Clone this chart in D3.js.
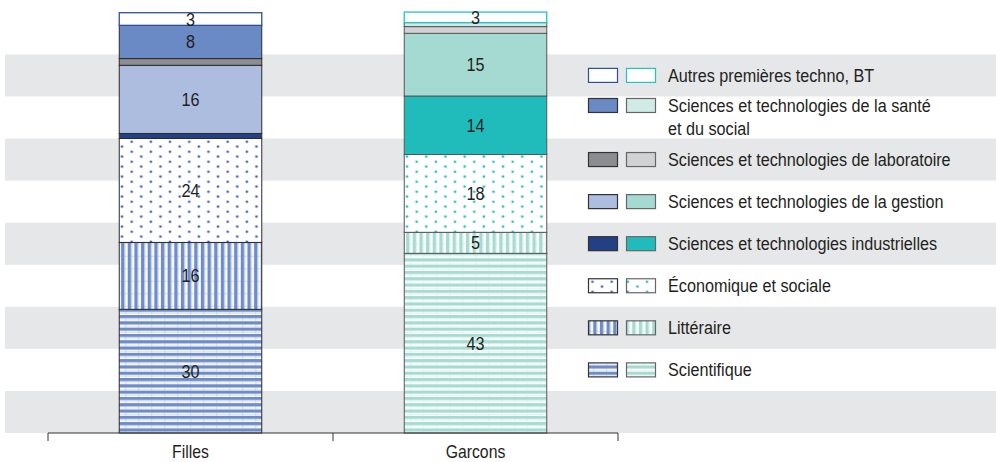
<!DOCTYPE html>
<html><head><meta charset="utf-8">
<script src="https://cdn.jsdelivr.net/npm/d3@7"></script>
<style>
html,body{margin:0;padding:0;background:#fff;}
svg text{font-family:'Liberation Sans','Arial',sans-serif;fill:#231f20;}
</style></head>
<body><svg id="c" width="996" height="462"></svg>
<script>
const categories = ["Filles", "Garcons"];
const seriesNames = ["Scientifique", "Littéraire", "Économique et sociale",
  "Sciences et technologies industrielles", "Sciences et technologies de la gestion",
  "Sciences et technologies de laboratoire", "Sciences et technologies de la santé et du social",
  "Autres premières techno, BT"];
const legendLines = [["Scientifique"], ["Littéraire"], ["Économique et sociale"],
  ["Sciences et technologies industrielles"], ["Sciences et technologies de la gestion"],
  ["Sciences et technologies de laboratoire"], ["Sciences et technologies de la santé", "et du social"],
  ["Autres premières techno, BT"]];
const fillesValues = [29.4, 15.9, 24.7, 1.2, 16.2, 1.6, 7.9, 3.0];
const garconsValues = [42.7, 5.0, 18.5, 13.9, 14.9, 1.6, 0.95, 2.5];
const fillesLabels = ["30", "16", "24", "", "16", "", "8", "3"];
const garconsLabels = ["43", "5", "18", "14", "15", "", "", "3"];
const bandTicks = [0, 10, 20, 30, 40, 50, 60, 70, 80, 90, 100];

const svg = d3.select("#c");
const W = 996;
const SX = 0.876, FS = 18.5;
const x = d3.scaleBand().domain(categories).range([48, 618]).paddingInner(0.5).paddingOuter(0.25);
const y = d3.scaleLinear().domain([0, 100]).range([433, 12.3]);

function ctext(parent, tx, ty, str, anchor, fs, dy) {
  const g = parent.append("g").attr("transform", `translate(${tx},${ty}) scale(${SX},1)`);
  g.append("text").attr("x", 0).attr("y", 0).attr("dy", dy === undefined ? "0.35em" : dy)
    .attr("text-anchor", anchor || "start").attr("font-size", fs || FS).text(str);
  return g;
}

const pal = {
  solid: {
    3: ["#233f86", "#20bcbc"],
    4: ["#adbde0", "#a5dad3"],
    5: ["#8c8d90", "#d1d2d4"],
    6: ["#6a8ac6", "#d0ebe6"],
    7: ["#ffffff", "#ffffff"]
  },
  stripe: ["#6d8cc8", "#a6dbd3"],
  dot: ["#3f5fb0", "#22bcc2"],
  edge: ["#2b2b2b", "#555"],
  autres: ["#2e4f9e", "#22c3c6"]
};

const defs = svg.append("defs");
[0, 1].forEach(k => {
  const c = pal.stripe[k];
  const bx = x(categories[k]);
  const v = defs.append("pattern").attr("id", "vs" + k).attr("patternUnits", "userSpaceOnUse")
    .attr("x", bx).attr("width", 6.65).attr("height", 12.5);
  v.append("rect").attr("width", 6.65).attr("height", 12.5).attr("fill", "#fff");
  v.append("rect").attr("x", 1.8).attr("width", 3.4).attr("height", 12.5).attr("fill", c);
  v.append("rect").attr("x", 6.0).attr("width", 0.9).attr("height", 12.5).attr("fill", c).attr("opacity", 0.3);
  v.append("rect").attr("y", 6).attr("width", 6.65).attr("height", 0.8).attr("fill", c).attr("opacity", 0.3);
  const h = defs.append("pattern").attr("id", "hs" + k).attr("patternUnits", "userSpaceOnUse")
    .attr("x", bx).attr("width", 13).attr("height", 6.3);
  h.append("rect").attr("width", 13).attr("height", 6.3).attr("fill", "#fff");
  h.append("rect").attr("y", 0).attr("width", 13).attr("height", 3.2).attr("fill", c);
  h.append("rect").attr("y", 4.3).attr("width", 13).attr("height", 0.9).attr("fill", c).attr("opacity", 0.3);
  h.append("rect").attr("x", 6).attr("width", 0.8).attr("height", 6.3).attr("fill", c).attr("opacity", 0.25);
  const d = defs.append("pattern").attr("id", "dt" + k).attr("patternUnits", "userSpaceOnUse")
    .attr("x", bx).attr("width", 19.2).attr("height", 10);
  d.append("rect").attr("width", 19.2).attr("height", 10).attr("fill", "#fff");
  [[12.4, 1.8], [2.8, 6.6]].forEach(p => {
    d.append("circle").attr("cx", p[0]).attr("cy", p[1]).attr("r", 1.8).attr("fill", pal.dot[k]).attr("opacity", 0.3);
    d.append("circle").attr("cx", p[0]).attr("cy", p[1]).attr("r", 1.05).attr("fill", pal.dot[k]);
  });
});

function fillFor(i, k) {
  if (i === 0) return "url(#hs" + k + ")";
  if (i === 1) return "url(#vs" + k + ")";
  if (i === 2) return "url(#dt" + k + ")";
  return pal.solid[i][k];
}
function strokeFor(i, k) { return i === 7 ? pal.autres[k] : pal.edge[k]; }

// background bands
const bands = d3.range(0, bandTicks.length - 1, 2).map(j => [bandTicks[j], bandTicks[j + 1]]);
svg.append("g").selectAll("rect").data(bands).join("rect")
  .attr("x", 5).attr("width", W - 5)
  .attr("y", d => y(d[1])).attr("height", d => y(d[0]) - y(d[1]))
  .attr("fill", "#e6e7e8");

// stacked bars
const valuesBy = [fillesValues, garconsValues];
const labelsBy = [fillesLabels, garconsLabels];
categories.forEach((cat, k) => {
  const vals = valuesBy[k];
  let acc = 0;
  const segs = vals.map((v, i) => { const s = { i, y0: acc, y1: acc + v, label: labelsBy[k][i] }; acc += v; return s; });
  const g = svg.append("g");
  g.selectAll("rect").data(segs).join("rect")
    .attr("x", x(cat)).attr("width", x.bandwidth())
    .attr("y", d => y(d.y1)).attr("height", d => y(d.y0) - y(d.y1))
    .attr("fill", d => fillFor(d.i, k))
    .attr("stroke", d => strokeFor(d.i, k)).attr("stroke-width", d => d.i === 7 ? 1.3 : 1);
  segs.filter(d => d.label).forEach(d => {
    ctext(g, x(cat) + x.bandwidth() / 2, y((d.y0 + d.y1) / 2), d.label, "middle");
  });
});

// axis
const axis = svg.append("g").attr("transform", "translate(0,433)");
axis.append("line").attr("x1", 48).attr("x2", 618).attr("stroke", "#333").attr("stroke-width", 1);
const tickXs = [48].concat(categories.map(c => x(c) + x.bandwidth() / 2 + x.step() / 2));
axis.selectAll(".tk").data(tickXs).join("line").attr("class", "tk")
  .attr("x1", d => d).attr("x2", d => d).attr("y1", 0).attr("y2", 8).attr("stroke", "#333");
categories.forEach(c => ctext(axis, x(c) + x.bandwidth() / 2, 24.5, c, "middle", 18, 0));

// legend (rows aligned to bands, top = last series)
const lg = svg.append("g");
seriesNames.forEach((name, i) => {
  const cy = y(15 + 10 * i);
  const lines = legendLines[i];
  const firstY = lines.length > 1 ? cy - 12 : cy;
  [0, 1].forEach(k => {
    lg.append("rect").attr("x", k === 0 ? 588.5 : 626.5).attr("y", firstY - 7).attr("width", 29).attr("height", 14)
      .attr("fill", fillFor(i, k)).attr("stroke", i === 7 ? pal.autres[k] : (k === 0 ? "#333" : "#666"))
      .attr("stroke-width", 1.2);
  });
  lines.forEach((t, j) => ctext(lg, 668, firstY + j * 23, t, "start"));
});
</script></body></html>
